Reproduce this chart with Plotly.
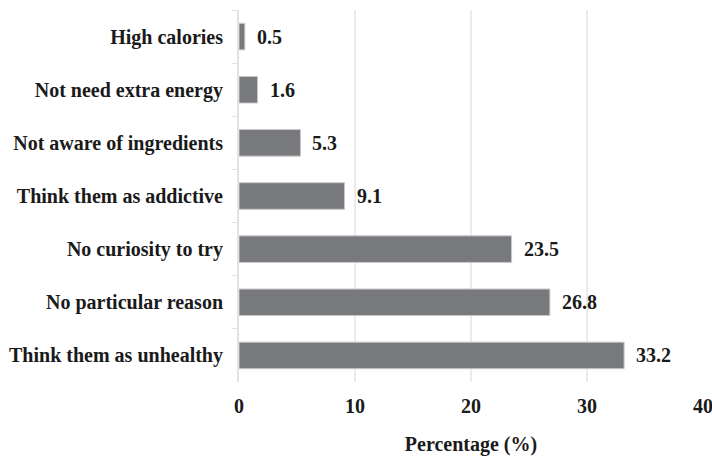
import plotly.graph_objects as go

# Reasons for not consuming the product (percentage of respondents)
reasons = [
    "High calories",
    "Not need extra energy",
    "Not aware of ingredients",
    "Think them as addictive",
    "No curiosity to try",
    "No particular reason",
    "Think them as unhealthy",
]
percentages = [0.5, 1.6, 5.3, 9.1, 23.5, 26.8, 33.2]
x_ticks = [0, 10, 20, 30, 40]

FONT = "Liberation Serif"
SIZE = 20
BAR_COLOR = "#78797d"
GRID_COLOR = "#ebebeb"
TEXT = dict(family=FONT, size=SIZE, color="#1a1a1a", weight="bold")

fig = go.Figure(
    go.Bar(
        x=percentages,
        y=reasons,
        orientation="h",
        marker=dict(color=BAR_COLOR, line=dict(color="#c9c9c9", width=1)),
        hoverinfo="x+y",
    )
)

# value labels placed just past the end of each bar
for r, v in zip(reasons, percentages):
    fig.add_annotation(
        x=v, y=r, text=f"{v}", showarrow=False,
        xanchor="left", yanchor="middle", xshift=10,
        font=TEXT,
    )

fig.update_layout(
    width=712,
    height=457,
    margin=dict(l=239, r=9, t=10, b=75),
    paper_bgcolor="white",
    plot_bgcolor="white",
    bargap=0.5,
    showlegend=False,
    font=TEXT,
)

fig.update_xaxes(
    range=[0, 40],
    tickvals=x_ticks,
    automargin=False,
    showgrid=True,
    gridcolor=GRID_COLOR,
    gridwidth=2,
    zeroline=False,
    showline=False,
    ticks="",
    ticklabelstandoff=10,
    ticklabeloverflow="allow",
    tickfont=TEXT,
    title=dict(text="Percentage (%)", standoff=20, font=TEXT),
)

fig.update_yaxes(
    autorange="reversed",
    automargin=False,
    showline=True,
    linecolor="#e3e3e3",
    linewidth=2,
    ticks="outside",
    tickson="boundaries",
    ticklen=5,
    tickcolor="#e3e3e3",
    tickwidth=1,
    showgrid=False,
    ticklabelstandoff=10,
    tickfont=TEXT,
)

fig.write_html("out.html")
